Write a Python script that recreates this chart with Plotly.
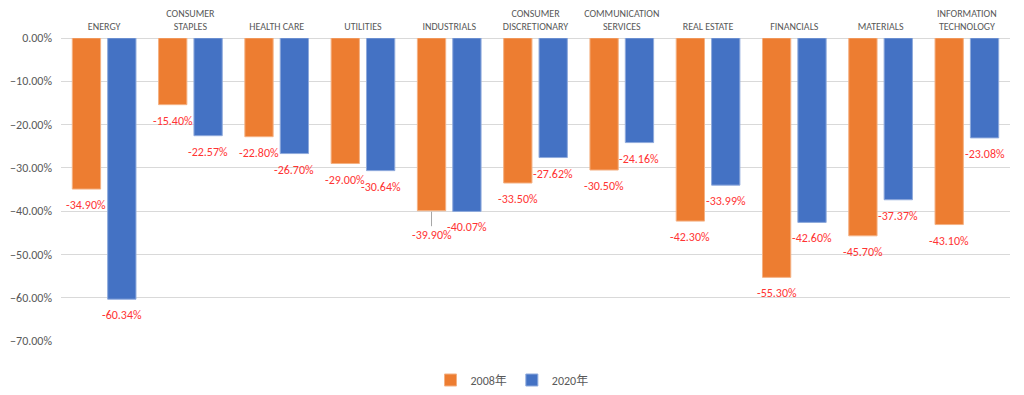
import plotly.graph_objects as go

categories = ["ENERGY", "CONSUMER<br>STAPLES", "HEALTH CARE", "UTILITIES", "INDUSTRIALS",
              "CONSUMER<br>DISCRETIONARY", "COMMUNICATION<br>SERVICES", "REAL ESTATE",
              "FINANCIALS", "MATERIALS", "INFORMATION<br>TECHNOLOGY"]
y2008 = [-34.90, -15.40, -22.80, -29.00, -39.90, -33.50, -30.50, -42.30, -55.30, -45.70, -43.10]
y2020 = [-60.34, -22.57, -26.70, -30.64, -40.07, -27.62, -24.16, -33.99, -42.60, -37.37, -23.08]
series_names = ["2008年", "2020年"]
y_ticks = [0, -10, -20, -30, -40, -50, -60, -70]

v2008 = [v / 100 for v in y2008]
v2020 = [v / 100 for v in y2020]

FONT = "Carlito, Calibri, 'Liberation Sans', 'Noto Sans CJK JP', sans-serif"
LABEL_RED = "#FF3333"
BAR_OFFSET = 17.7  # pixel offset of each bar from its category centre
lead_idx = categories.index("INDUSTRIALS")

fig = go.Figure()
fig.add_trace(go.Bar(
    x=categories, y=v2008, name=series_names[0],
    marker=dict(color="#ED7D31", line=dict(color="#F4B183", width=1)),
))
fig.add_trace(go.Bar(
    x=categories, y=v2020, name=series_names[1],
    marker=dict(color="#4472C4", line=dict(color="#8FAADC", width=1)),
))

# data labels
for vals, raw, shift in ((v2008, y2008, -BAR_OFFSET), (v2020, y2020, BAR_OFFSET)):
    for i, (cat, v, r) in enumerate(zip(categories, vals, raw)):
        if vals is v2008 and i == lead_idx:
            fig.add_annotation(
                x=cat, y=v, xref="x", yref="y", xshift=shift,
                text="%.2f%%" % r, showarrow=True, arrowhead=0, arrowwidth=1,
                arrowcolor="#A6A6A6", ax=0, ay=24, standoff=1,
                font=dict(color=LABEL_RED, size=12, family=FONT),
            )
        else:
            fig.add_annotation(
                x=cat, y=v, xref="x", yref="y", xshift=shift, yshift=-16,
                text="%.2f%%" % r, showarrow=False, yanchor="middle", xanchor="center",
                font=dict(color=LABEL_RED, size=12, family=FONT),
            )

fig.update_layout(
    width=1024, height=395,
    margin=dict(l=61, r=14, t=38, b=54),
    paper_bgcolor="white", plot_bgcolor="white",
    barmode="group", bargap=0.18, bargroupgap=0.2,
    font=dict(family=FONT, color="#595959"),
    showlegend=True,
    legend=dict(orientation="h", x=0.5, xanchor="center", xref="container",
                y=15 / 395, yanchor="middle", yref="container",
                font=dict(size=12, color="#595959", family=FONT), itemwidth=30),
)
fig.update_xaxes(side="top", showgrid=False, showline=False, ticks="", automargin=False,
                 ticklabelstandoff=5,
                 tickfont=dict(size=10, color="#595959", family=FONT))
fig.update_yaxes(range=[-0.70, 0], tickvals=[t / 100 for t in y_ticks], tickformat=".2%",
                 showgrid=True, gridcolor="#D9D9D9", gridwidth=1, zeroline=True,
                 zerolinecolor="#D9D9D9", zerolinewidth=1, automargin=False,
                 ticklabelstandoff=8,
                 tickfont=dict(size=12, color="#595959", family=FONT), ticks="")

fig.write_html("out.html", config={"displayModeBar": False},
               post_script="document.body.style.margin='0';document.body.style.overflow='hidden';")
